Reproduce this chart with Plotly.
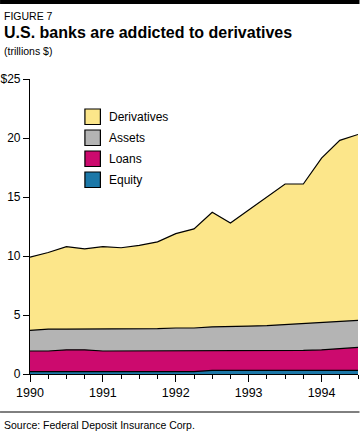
import plotly.graph_objects as go

# ---- data (trillions $), quarterly ----
quarters = [1990.0, 1990.25, 1990.5, 1990.75, 1991.0, 1991.25, 1991.5, 1991.75,
            1992.0, 1992.25, 1992.5, 1992.75, 1993.0, 1993.25, 1993.5, 1993.75,
            1994.0, 1994.25, 1994.5]
derivatives = [9.9, 10.3, 10.8, 10.6, 10.8, 10.7, 10.9, 11.2,
               11.9, 12.3, 13.7, 12.8, 13.9, 15.0, 16.1, 16.1,
               18.3, 19.8, 20.3]
assets = [3.7, 3.8, 3.8, 3.8, 3.8, 3.85, 3.85, 3.85,
          3.9, 3.9, 4.0, 4.0, 4.05, 4.1, 4.2, 4.3,
          4.4, 4.5, 4.55]
loans = [1.95, 1.95, 2.05, 2.05, 1.95, 1.95, 1.95, 1.95,
         1.95, 1.95, 1.95, 1.95, 1.95, 1.95, 2.0, 2.0,
         2.05, 2.15, 2.25]
equity = [0.2, 0.2, 0.2, 0.2, 0.2, 0.2, 0.2, 0.2,
          0.2, 0.2, 0.3, 0.3, 0.3, 0.3, 0.3, 0.3,
          0.3, 0.3, 0.3]

series_names = ["Derivatives", "Assets", "Loans", "Equity"]
series_values = [derivatives, assets, loans, equity]
series_colors = ["#FCE68A", "#B4B4B4", "#CC0A6E", "#1C78A8"]

x_tickvals = [1990, 1991, 1992, 1993, 1994]
x_ticktext = ["1990", "1991", "1992", "1993", "1994"]
y_tickvals = [0, 5, 10, 15, 20, 25]
y_ticktext = ["0", "5", "10", "15", "20", "$25"]

W, H = 360, 433
L, R, T, B = 30, 358.5, 79, 374  # plot area in px
FONT = "Liberation Sans, Arial, sans-serif"


def px_x(px):
    return (px - L) / (R - L)


def px_y(py):
    return (B - py) / (B - T)


fig = go.Figure()
for name, vals, col in zip(series_names, series_values, series_colors):
    fig.add_trace(go.Scatter(
        x=quarters, y=vals, name=name, mode="lines",
        fill="tozeroy", fillcolor=col,
        line=dict(color="black", width=1.2),
        hoverinfo="skip", showlegend=False,
    ))

shapes = []
annotations = []

# top black bar
shapes.append(dict(type="rect", xref="paper", yref="paper",
                   x0=px_x(0), x1=px_x(W), y0=px_y(4), y1=px_y(0),
                   fillcolor="black", line=dict(width=0), layer="above"))
# bottom rule
shapes.append(dict(type="line", xref="paper", yref="paper",
                   x0=px_x(0), x1=px_x(W), y0=px_y(412), y1=px_y(412),
                   line=dict(color="black", width=1)))

# legend boxes
for i, (name, col) in enumerate(zip(series_names, series_colors)):
    top = 109 + 21 * i
    shapes.append(dict(type="rect", xref="paper", yref="paper",
                       x0=px_x(85), x1=px_x(100.5), y0=px_y(top + 15.5), y1=px_y(top),
                       fillcolor=col, line=dict(color="black", width=1.2),
                       layer="above"))
    annotations.append(dict(xref="paper", yref="paper", x=px_x(107), y=px_y(top + 8),
                            xanchor="left", yanchor="middle", text=name,
                            showarrow=False, font=dict(size=12, color="black", family=FONT)))

# header texts
annotations.append(dict(xref="paper", yref="paper", x=px_x(1.5), y=px_y(16),
                        xanchor="left", yanchor="middle", text="FIGURE 7",
                        showarrow=False, font=dict(size=10.5, color="black", family=FONT)))
annotations.append(dict(xref="paper", yref="paper", x=px_x(1.5), y=px_y(32),
                        xanchor="left", yanchor="middle",
                        text="<b>U.S. banks are addicted to derivatives</b>",
                        showarrow=False, font=dict(size=16, color="black", family=FONT)))
annotations.append(dict(xref="paper", yref="paper", x=px_x(1.5), y=px_y(51),
                        xanchor="left", yanchor="middle", text="(trillions $)",
                        showarrow=False, font=dict(size=10.5, color="black", family=FONT)))
annotations.append(dict(xref="paper", yref="paper", x=px_x(1.5), y=px_y(425),
                        xanchor="left", yanchor="middle",
                        text="Source: Federal Deposit Insurance Corp.",
                        showarrow=False, font=dict(size=10.5, color="black", family=FONT)))

fig.update_layout(
    width=W, height=H,
    margin=dict(l=L, r=W - R, t=T, b=H - B, pad=0),
    paper_bgcolor="white", plot_bgcolor="white",
    font=dict(family=FONT, size=11, color="black"),
    shapes=shapes, annotations=annotations,
    xaxis=dict(range=[1990, 1994.5], tickvals=x_tickvals, ticktext=x_ticktext,
               ticks="outside", ticklen=7, tickcolor="black", tickwidth=1,
               showline=True, linecolor="black", linewidth=1.2,
               showgrid=False, zeroline=False, tickfont=dict(size=12.5),
               minor=dict(dtick=0.25, tick0=1990, ticks="outside", ticklen=4,
                          tickcolor="black", tickwidth=1, showgrid=False),
               fixedrange=True),
    yaxis=dict(range=[0, 25], tickvals=y_tickvals, ticktext=y_ticktext,
               ticks="outside", ticklen=6, tickcolor="black", tickwidth=1,
               showline=True, linecolor="black", linewidth=1.2,
               showgrid=False, zeroline=False, tickfont=dict(size=12),
               fixedrange=True),
)

fig.write_html("out.html", config={"displayModeBar": False},
               post_script="document.body.style.margin='0';document.body.style.overflow='hidden';")
